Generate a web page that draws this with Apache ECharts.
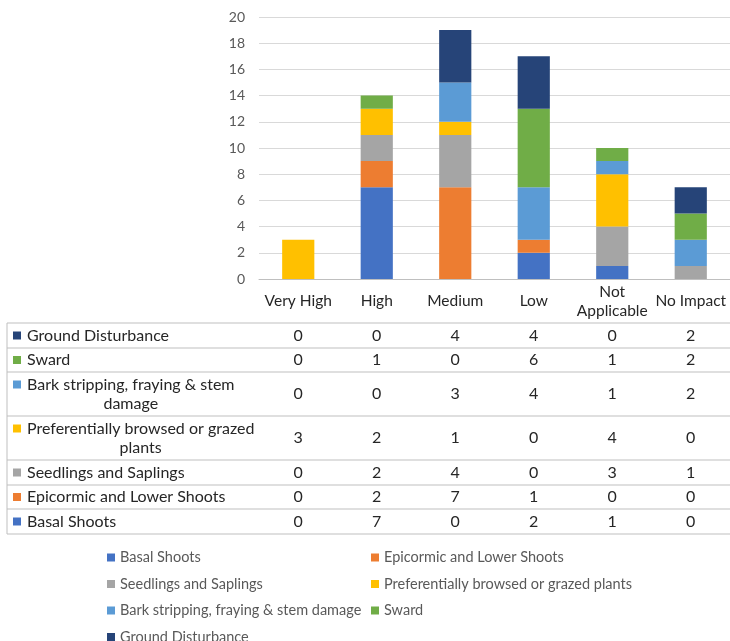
<!DOCTYPE html>
<html>
<head>
<meta charset="utf-8">
<script src="https://cdn.jsdelivr.net/npm/echarts@6/dist/echarts.min.js"></script>
<style>
html, body { margin: 0; padding: 0; background: #fff; }
#main { width: 730px; height: 641px; }
</style>
</head>
<body>
<div id="main"></div>
<script>
// categories along x
var categories = ['Very High', 'High', 'Medium', 'Low', 'Not\nApplicable', 'No Impact'];

// series, bottom of the stack first
var basalShoots = [0, 7, 0, 2, 1, 0];
var epicormicShoots = [0, 2, 7, 1, 0, 0];
var seedlingsSaplings = [0, 2, 4, 0, 3, 1];
var browsedPlants = [3, 2, 1, 0, 4, 0];
var barkStripping = [0, 0, 3, 4, 1, 2];
var sward = [0, 1, 0, 6, 1, 2];
var groundDisturbance = [0, 0, 4, 4, 0, 2];

var seriesNames = [
  'Basal Shoots',
  'Epicormic and Lower Shoots',
  'Seedlings and Saplings',
  'Preferentially browsed or grazed plants',
  'Bark stripping, fraying & stem damage',
  'Sward',
  'Ground Disturbance'
];
// how the names wrap in the data table
var tableLabels = [
  'Basal Shoots',
  'Epicormic and Lower Shoots',
  'Seedlings and Saplings',
  'Preferentially browsed or grazed\nplants',
  'Bark stripping, fraying & stem\ndamage',
  'Sward',
  'Ground Disturbance'
];
var seriesValues = [basalShoots, epicormicShoots, seedlingsSaplings, browsedPlants,
  barkStripping, sward, groundDisturbance];
var colors = ['#4472C4', '#ED7D31', '#A5A5A5', '#FFC000', '#5B9BD5', '#70AD47', '#264478'];

var yMin = 0, yMax = 20, yStep = 2;

var font = 'Lato, "Liberation Sans", sans-serif';
var tableFont = '16px ' + font;
var chartDom = document.getElementById('main');
var myChart = echarts.init(chartDom);

var series = seriesValues.map(function (vals, i) {
  return {
    name: seriesNames[i],
    type: 'bar',
    stack: 'total',
    barWidth: '41%',
    itemStyle: { color: colors[i] },
    data: vals
  };
});

var legendText = { color: '#595959', fontSize: 14.5, lineHeight: 14, fontFamily: font };

var option = {
  animation: false,
  textStyle: { fontFamily: font },
  grid: { left: 259, top: 17, width: 474, height: 262 },
  xAxis: {
    type: 'category',
    data: categories,
    axisLine: { lineStyle: { color: '#BFBFBF' } },
    axisTick: { length: 255, lineStyle: { color: '#BFBFBF' } },
    axisLabel: {
      color: '#262626', fontSize: 15.5, lineHeight: 19, fontFamily: font,
      margin: 22, verticalAlign: 'middle', interval: 0
    }
  },
  yAxis: {
    type: 'value',
    min: yMin, max: yMax, interval: yStep,
    axisLine: { show: false },
    axisTick: { show: false },
    axisLabel: { color: '#595959', fontSize: 14, margin: 14, fontFamily: font },
    splitLine: { lineStyle: { color: '#D9D9D9' } }
  },
  legend: [
    {
      data: [seriesNames[0], seriesNames[2], seriesNames[4], seriesNames[6]],
      orient: 'vertical', left: 107, top: 550, height: 110, padding: 0,
      itemWidth: 8, itemHeight: 8, itemGap: 11.5, icon: 'rect',
      textStyle: legendText
    },
    {
      data: [seriesNames[1], seriesNames[3], seriesNames[5]],
      orient: 'vertical', left: 371, top: 550, height: 110, padding: 0,
      itemWidth: 8, itemHeight: 8, itemGap: 11.5, icon: 'rect',
      textStyle: legendText
    }
  ],
  series: series
};

option && myChart.setOption(option);

// data table under the plot
var measure = document.createElement('canvas').getContext('2d');
measure.font = tableFont;
var rowEdges = [323, 348, 372, 416, 460, 485, 509, 534];
var tableLeft = 7, tableRight = 733, labelX = 27;
var lineColor = '#BFBFBF';
var elements = [];
elements.push({ type: 'line', shape: { x1: tableLeft, y1: rowEdges[0], x2: tableLeft, y2: rowEdges[rowEdges.length - 1] },
  style: { stroke: lineColor, lineWidth: 1 } });
rowEdges.forEach(function (y) {
  elements.push({ type: 'line', shape: { x1: tableLeft, y1: y, x2: tableRight, y2: y },
    style: { stroke: lineColor, lineWidth: 1 } });
});
for (var r = 0; r < seriesNames.length; r++) {
  var s = seriesNames.length - 1 - r; // top row is the top of the stack
  var rowTop = rowEdges[r], rowBottom = rowEdges[r + 1];
  var mid = (rowTop + rowBottom) / 2;
  var lines = tableLabels[s].split('\n');
  var wrapped = lines.length > 1;
  var firstLineY = wrapped ? mid - 9.5 : mid;
  // wrapped names: lines centred on the first line's width
  var labelAnchor = wrapped ? labelX + measure.measureText(lines[0]).width / 2 : labelX;
  elements.push({ type: 'rect', shape: { x: 13, y: firstLineY - 4, width: 8, height: 8 },
    style: { fill: colors[s] } });
  elements.push({ type: 'text', x: labelAnchor, y: mid,
    style: { text: tableLabels[s], fill: '#262626', font: tableFont,
      align: wrapped ? 'center' : 'left', verticalAlign: 'middle', lineHeight: 19 } });
  seriesValues[s].forEach(function (v, c) {
    var x = myChart.convertToPixel({ xAxisIndex: 0 }, c);
    elements.push({ type: 'text', x: x, y: mid,
      style: { text: String(v), fill: '#262626', font: tableFont,
        align: 'center', verticalAlign: 'middle' } });
  });
}
myChart.setOption({ graphic: { elements: elements } });
</script>
</body>
</html>
